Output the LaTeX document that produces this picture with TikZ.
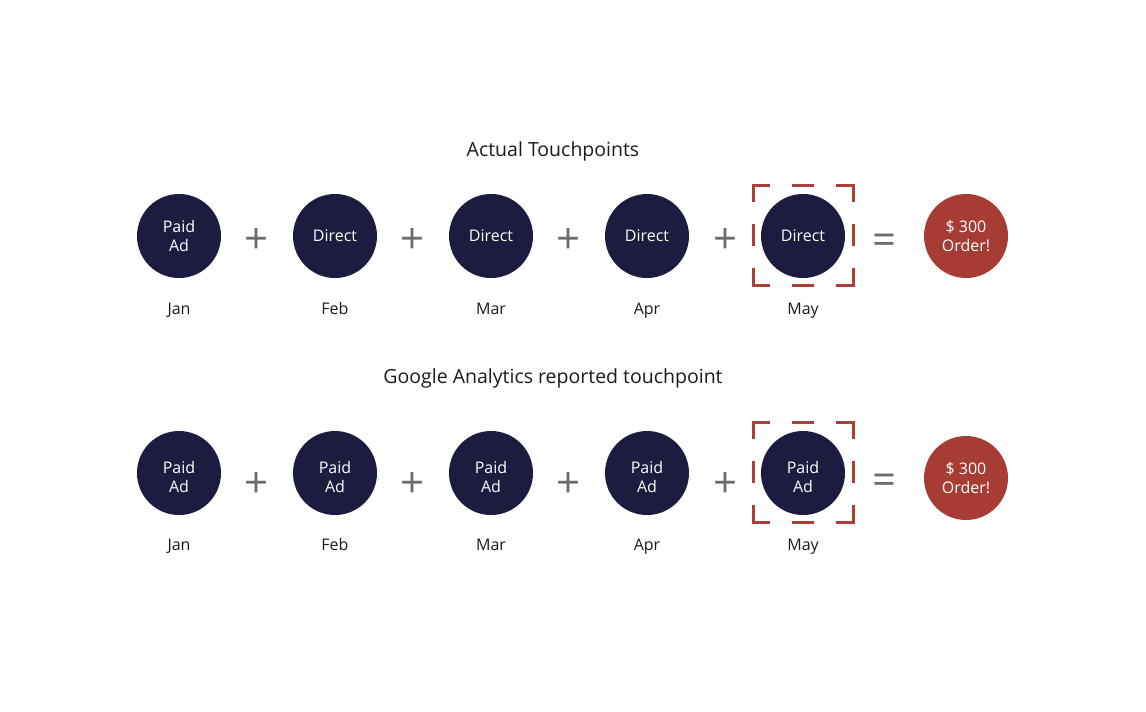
\documentclass[tikz,border=0pt]{standalone}
\usepackage{fontspec}
\setmainfont{Open Sans}
\usetikzlibrary{positioning,calc}
\definecolor{navy}{RGB}{28,27,64}
\definecolor{ordred}{RGB}{166,60,52}
\definecolor{hilite}{RGB}{170,64,56}
\definecolor{opgray}{RGB}{108,108,108}
\definecolor{ink}{RGB}{26,26,26}

\begin{document}
\begin{tikzpicture}[x=1pt,y=-1pt,
    touch/.style={circle,fill=navy,minimum size=84pt,inner sep=0pt,outer sep=0pt,
                  text=white,align=center,font=\fontsize{16}{19}\selectfont},
    low/.style={text height=39pt,text depth=0pt},
    order/.style={touch,fill=ordred},
    month/.style={inner sep=0pt,outer sep=0pt,text=ink,text height=12pt,text depth=4pt,
                  font=\fontsize{16}{19}\selectfont},
    ttl/.style={text=ink,font=\fontsize{19.5}{23}\selectfont},
    op/.style={inner sep=0pt,text=opgray,font=\fontsize{42}{42}\selectfont},
    hl/.style={draw=hilite,line width=3pt,line cap=rect,
               dash pattern=on 31pt off 25pt on 19pt off 25pt,dash phase=15.5pt}]
  \useasboundingbox (0,0) rectangle (1146,712);

  % actual touchpoints
  \node[ttl] (title1) at (553,151) {Actual Touchpoints};
  \node[touch] (jan1) at (179,236) {Paid\\Ad};
  \node[touch,right=72pt of jan1] (feb1) {Direct};
  \node[touch,right=72pt of feb1] (mar1) {Direct};
  \node[touch,right=72pt of mar1] (apr1) {Direct};
  \node[touch,right=72pt of apr1] (may1) {Direct};
  \node[order] (ord1) at (966,236) {\$ 300\\Order!};
  \node[op] (pa1) at ($(jan1)!0.5!(feb1)+(0,5)$) {+};
  \node[op] (pb1) at ($(feb1)!0.5!(mar1)+(0,5)$) {+};
  \node[op] (pc1) at ($(mar1)!0.5!(apr1)+(0,5)$) {+};
  \node[op] (pd1) at ($(apr1)!0.5!(may1)+(0,5)$) {+};
  \node[op] (eq1) at ($(may1)!0.5!(ord1)+(0,8)$) {=};
  \node[month,below=24pt of jan1] (ljan1) {Jan};
  \node[month,below=24pt of feb1] (lfeb1) {Feb};
  \node[month,below=24pt of mar1] (lmar1) {Mar};
  \node[month,below=24pt of apr1] (lapr1) {Apr};
  \node[month,below=24pt of may1] (lmay1) {May};
  \draw[hl] ($(may1)+(-50,-51)$) rectangle ($(may1)+(50,49)$);

  % reported by GA
  \node[ttl] (title2) at (553,378) {Google Analytics reported touchpoint};
  \node[touch,low] (jan2) at (179,473) {Paid\\Ad};
  \node[touch,low,right=72pt of jan2] (feb2) {Paid\\Ad};
  \node[touch,low,right=72pt of feb2] (mar2) {Paid\\Ad};
  \node[touch,low,right=72pt of mar2] (apr2) {Paid\\Ad};
  \node[touch,low,right=72pt of apr2] (may2) {Paid\\Ad};
  \node[order] (ord2) at (966,478) {\$ 300\\Order!};
  \node[op] (pa2) at ($(jan2)!0.5!(feb2)+(0,12)$) {+};
  \node[op] (pb2) at ($(feb2)!0.5!(mar2)+(0,12)$) {+};
  \node[op] (pc2) at ($(mar2)!0.5!(apr2)+(0,12)$) {+};
  \node[op] (pd2) at ($(apr2)!0.5!(may2)+(0,12)$) {+};
  \node[op] (eq2) at ($(may2)!0.5!(ord2)+(0,9)$) {=};
  \node[month,below=23pt of jan2] (ljan2) {Jan};
  \node[month,below=23pt of feb2] (lfeb2) {Feb};
  \node[month,below=23pt of mar2] (lmar2) {Mar};
  \node[month,below=23pt of apr2] (lapr2) {Apr};
  \node[month,below=23pt of may2] (lmay2) {May};
  \draw[hl] ($(may2)+(-50,-51)$) rectangle ($(may2)+(50,49)$);
\end{tikzpicture}
\end{document}
